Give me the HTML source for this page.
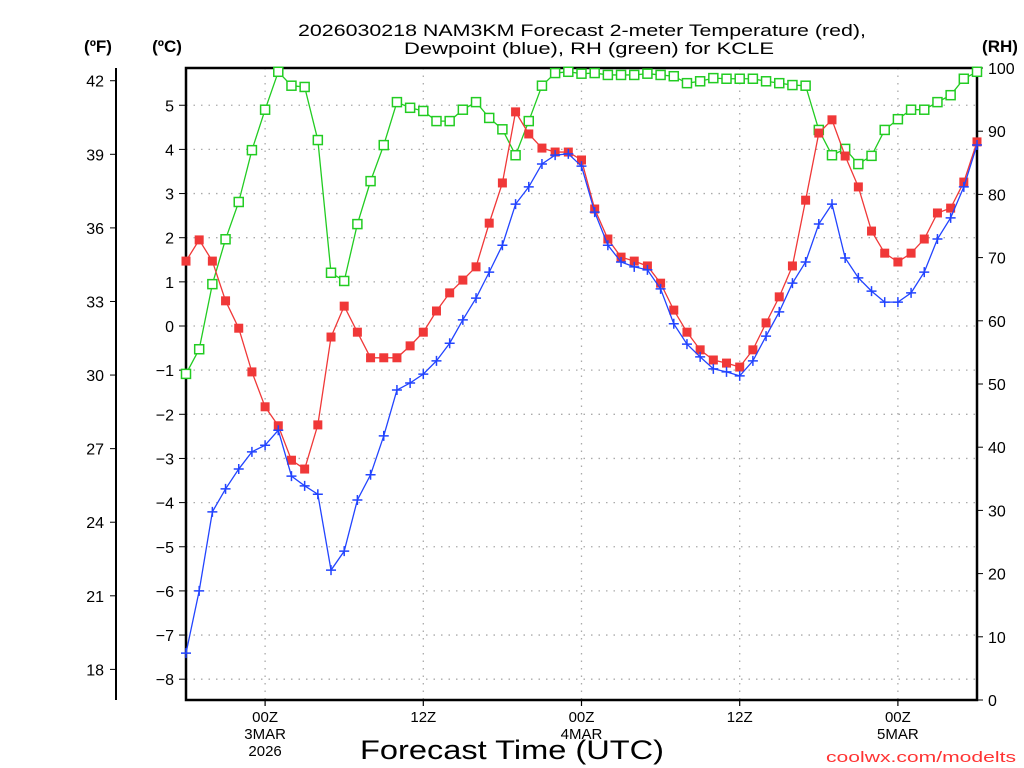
<!DOCTYPE html>
<html><head><meta charset="utf-8"><style>
html,body{margin:0;padding:0;background:#fff;}
svg{display:block;font-family:"Liberation Sans","DejaVu Sans",sans-serif;}
</style></head><body>
<svg id="chart" width="1024" height="768" viewBox="0 0 1024 768" xmlns="http://www.w3.org/2000/svg">
<rect width="1024" height="768" fill="#fff"/>
<g font-size="17" fill="#000">
<text x="582" y="36" text-anchor="middle" textLength="568" lengthAdjust="spacingAndGlyphs">2026030218 NAM3KM Forecast 2-meter Temperature (red),</text>
<text x="589" y="54" text-anchor="middle" textLength="370" lengthAdjust="spacingAndGlyphs">Dewpoint (blue), RH (green) for KCLE</text>
</g>
<text x="98" y="52" text-anchor="middle" font-size="17" font-weight="bold">(ºF)</text>
<text x="167" y="52" text-anchor="middle" font-size="17" font-weight="bold">(ºC)</text>
<text x="1000" y="52" text-anchor="middle" font-size="17" font-weight="bold">(RH)</text>
<g id="grid"></g>
<g id="axes"></g>
<g id="series"></g>
<text x="512" y="759" text-anchor="middle" font-size="27" textLength="304" lengthAdjust="spacingAndGlyphs">Forecast Time (UTC)</text>
<text x="1016" y="762" text-anchor="end" font-size="15" fill="#ff3333" textLength="190" lengthAdjust="spacingAndGlyphs">coolwx.com/modelts</text>
</svg>
<script>
// hourly forecasts starting 18Z 2 MAR 2026
const hours = Array.from({length:61},(_,i)=>i);
const tempC = [1.47,1.95,1.47,0.57,-0.05,-1.04,-1.83,-2.26,-3.04,-3.24,-2.24,-0.25,0.45,-0.14,-0.72,-0.72,-0.72,-0.45,-0.14,0.34,0.75,1.04,1.34,2.33,3.24,4.85,4.35,4.03,3.94,3.94,3.76,2.65,1.97,1.56,1.47,1.36,0.97,0.36,-0.14,-0.54,-0.77,-0.84,-0.93,-0.54,0.07,0.66,1.36,2.85,4.37,4.67,3.85,3.15,2.15,1.65,1.45,1.65,1.97,2.56,2.67,3.26,4.17];
const dewC = [-7.41,-6.00,-4.21,-3.69,-3.24,-2.85,-2.70,-2.36,-3.40,-3.62,-3.81,-5.53,-5.10,-3.94,-3.37,-2.49,-1.45,-1.29,-1.09,-0.79,-0.39,0.14,0.63,1.22,1.83,2.76,3.15,3.67,3.87,3.90,3.62,2.58,1.83,1.45,1.34,1.27,0.84,0.05,-0.41,-0.70,-0.97,-1.04,-1.13,-0.79,-0.23,0.32,0.97,1.45,2.31,2.76,1.54,1.09,0.79,0.54,0.54,0.75,1.22,1.97,2.45,3.15,4.10];
const rh = [51.6,55.5,65.8,72.9,78.8,87.0,93.4,99.4,97.2,97.0,88.6,67.6,66.3,75.3,82.1,87.8,94.6,93.7,93.2,91.6,91.6,93.4,94.6,92.1,90.3,86.2,91.6,97.2,99.2,99.4,99.1,99.2,98.9,98.9,98.9,99.1,98.9,98.7,97.6,97.9,98.4,98.3,98.3,98.3,97.9,97.6,97.3,97.2,90.2,86.2,87.2,84.8,86.1,90.2,91.9,93.4,93.4,94.6,95.7,98.3,99.4];
const cTicks = [5,4,3,2,1,0,-1,-2,-3,-4,-5,-6,-7,-8];
const fTicks = [42,39,36,33,30,27,24,21,18];
const rhTicks = [0,10,20,30,40,50,60,70,80,90,100];
const xTickHours = [6,18,30,42,54];
const xTickLabels = [["00Z","3MAR","2026"],["12Z"],["00Z","4MAR"],["12Z"],["00Z","5MAR"]];

const L=186,R=977,T=68,B=700;
const NS="http://www.w3.org/2000/svg";
const xS=h=>L+(h-0)*(R-L)/60;
const yC=c=>326-c*44.15;
const yF=f=>yC((f-32)/1.8);
const yRH=v=>B-v*(B-T)/100;
function mk(tag,attrs,parent){const e=document.createElementNS(NS,tag);for(const k in attrs)e.setAttribute(k,attrs[k]);parent.appendChild(e);return e;}
const grid=document.getElementById('grid'),axes=document.getElementById('axes'),series=document.getElementById('series');

cTicks.forEach(c=>{
  const y=yC(c);
  const g=mk('line',{x1:L,x2:R,y1:y,y2:y,stroke:'#aaa','stroke-width':1.3,'stroke-dasharray':'1.5 6'},grid);
  
  
  const t=mk('line',{x1:L-7,x2:L,y1:y,y2:y,stroke:'#000','stroke-width':1},axes);
  
  
  const lb=mk('text',{x:L-12,y:y+6,'text-anchor':'end','font-size':16},axes);
  lb.textContent=(c<0?'\u2212'+(-c):String(c));
  
  
});
xTickHours.forEach((h,i)=>{
  const x=xS(h);
  const g=mk('line',{x1:x,x2:x,y1:T,y2:B,stroke:'#aaa','stroke-width':1.3,'stroke-dasharray':'1.5 6'},grid);
  
  
  const t=mk('line',{x1:x,x2:x,y1:B,y2:B+6,stroke:'#000','stroke-width':1.2},axes);
  
  
  xTickLabels[i].forEach((s,j)=>{
    const lb=mk('text',{x:x,y:B+22+j*17,'text-anchor':'middle','font-size':15},axes);
    lb.textContent=s;
    
    
  });
});
fTicks.forEach(f=>{
  const y=yF(f);
  const t=mk('line',{x1:110,x2:116,y1:y,y2:y,stroke:'#000','stroke-width':1},axes);
  
  
  const lb=mk('text',{x:104,y:y+6,'text-anchor':'end','font-size':16},axes);
  lb.textContent=String(f);
  
  
});
rhTicks.forEach(v=>{
  const y=yRH(v);
  const t=mk('line',{x1:R,x2:R+6,y1:y,y2:y,stroke:'#000','stroke-width':1},axes);
  
  
  const lb=mk('text',{x:R+11,y:y+6,'text-anchor':'start','font-size':16},axes);
  lb.textContent=String(v);
  
  
});
const fl=mk('line',{x1:116,x2:116,y1:T,y2:B,stroke:'#000','stroke-width':2},axes);


const fr=mk('rect',{x:L,y:T,width:R-L,height:B-T,fill:'none',stroke:'#000','stroke-width':2.5},axes);



function drawSeries(vals,yf,color,marker,name){
  const pts=vals.map((v,i)=>[xS(hours[i]),yf(v)]);
  const pl=mk('polyline',{points:pts.map(p=>p.join(',')).join(' '),fill:'none',stroke:color,'stroke-width':1.3},series);
  
  
  pts.forEach(([x,y])=>{
    let m;
    if(marker==='fill'){m=mk('rect',{x:x-4.5,y:y-4.5,width:9,height:9,fill:color},series);}
    else if(marker==='open'){m=mk('rect',{x:x-4.5,y:y-4.5,width:9,height:9,fill:'#fff',stroke:color,'stroke-width':1.5},series);}
    else {m=mk('path',{d:`M${x-5},${y}H${x+5}M${x},${y-5}V${y+5}`,stroke:color,'stroke-width':1.5,fill:'none'},series);}
    
    
  });
}
drawSeries(rh,yRH,'#22cc22','open','rh');
drawSeries(tempC,yC,'#f03838','fill','temperature');
drawSeries(dewC,yC,'#2244ff','plus','dewpoint');
</script>
</body></html>
